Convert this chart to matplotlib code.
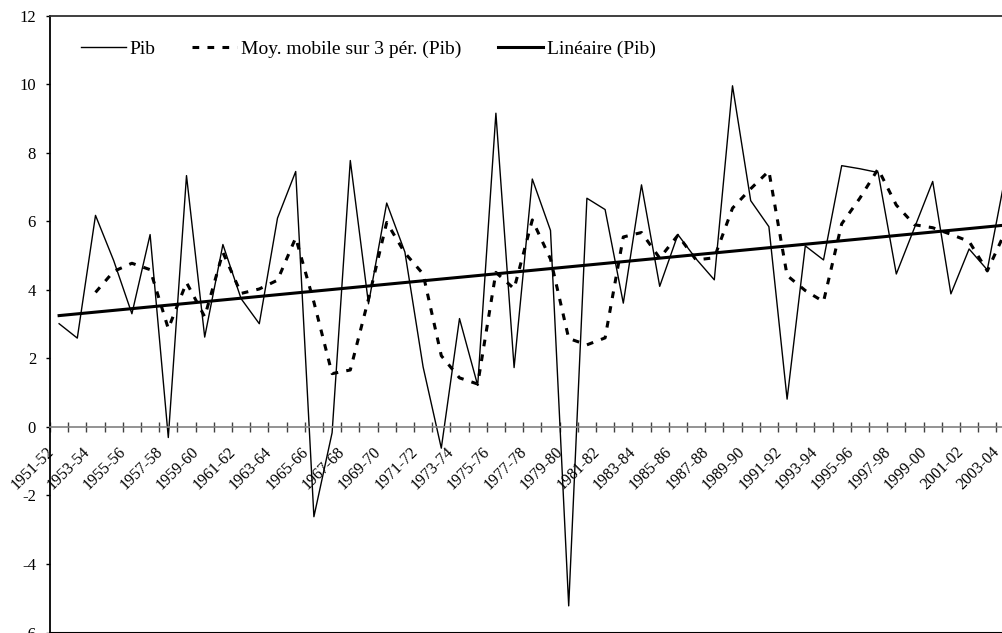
import numpy as np
import pandas as pd
import matplotlib
matplotlib.use("Agg")
import matplotlib.pyplot as plt
from matplotlib.transforms import ScaledTranslation

plt.rcParams['font.family'] = ['Liberation Serif', 'DejaVu Serif']

# annual GDP growth (Pib), 1951-52 .. 2003-04
years = list(range(1951, 2004))
periods = [f"{y}-{(y + 1) % 100:02d}" for y in years]
pib = [3.01, 2.59, 6.17, 4.85, 3.30, 5.61, -0.31, 7.33, 2.62, 5.32,
       3.74, 3.01, 6.09, 7.45, -2.62, -0.17, 7.77, 3.59, 6.53, 5.10,
       1.75, -0.62, 3.16, 1.21, 9.15, 1.73, 7.23, 5.73, -5.22, 6.67,
       6.34, 3.61, 7.06, 4.10, 5.61, 4.90, 4.29, 9.95, 6.60, 5.84,
       0.81, 5.28, 4.87, 7.62, 7.53, 7.42, 4.46, 5.81, 7.16, 3.88,
       5.19, 4.58, 7.35]
y_ticks = [-6, -4, -2, 0, 2, 4, 6, 8, 10, 12]

x = np.arange(len(pib))
# Excel-style trendlines: 3-period moving average and linear fit
ma3 = pd.Series(pib).rolling(3).mean()
slope, icpt = np.polyfit(x, pib, 1)
trend = slope * x + icpt

fig = plt.figure(figsize=(10.03, 6.33), dpi=100)
W, H = 1003, 633
left, top, right, bottom = 50, 15.5, 50 + 53 * 18.2, 632.6
ax = fig.add_axes([left / W, 1 - bottom / H, (right - left) / W, (bottom - top) / H])

ax.plot(x, pib, color='black', lw=1.0, label='Pib')
ax.plot(x, ma3, color='black', lw=2.2, linestyle=(0, (2.2, 2.7)),
        label='Moy. mobile sur 3 pér. (Pib)')
ax.plot(x, trend, color='black', lw=2.2, label='Linéaire (Pib)')

ax.set_xlim(-0.5, len(pib) - 0.5)
ax.set_ylim(-6, 12)

# y axis
ax.set_yticks(y_ticks)
ax.set_yticklabels([str(v) for v in y_ticks])
ax.tick_params(axis='y', direction='out', length=3, width=1, pad=7,
               labelsize=12, color='black')

# category axis crossing at 0
ax.spines['bottom'].set_position(('data', 0))
ax.spines['bottom'].set_color('#808080')
ax.spines['bottom'].set_linewidth(1.2)
ax.spines['right'].set_visible(False)
ax.spines['left'].set_linewidth(1.3)
ax.spines['top'].set_linewidth(1.3)
ax.spines['top'].set_color('#303030')
ax.axhline(-6, color='black', lw=1.5, clip_on=False)

ax.set_xticks(np.arange(-0.5, len(pib), 1.0))
ax.set_xticklabels([])
ax.tick_params(axis='x', direction='inout', length=7, width=1, color='#404040')

off = ScaledTranslation(-8 / 100, -23 / 100, fig.dpi_scale_trans)
for i in range(0, len(pib), 2):
    ax.text(i, 0, periods[i], transform=ax.transData + off, rotation=45,
            rotation_mode='anchor', ha='right', va='center', fontsize=11.5,
            clip_on=False)

leg = ax.legend(loc='center left', bbox_to_anchor=(0.032, 0.946), ncol=3,
                frameon=False, fontsize=14, handlelength=2.3, handletextpad=0.2,
                columnspacing=1.9, borderpad=0, borderaxespad=0)

fig.savefig('out.png', dpi=100)
